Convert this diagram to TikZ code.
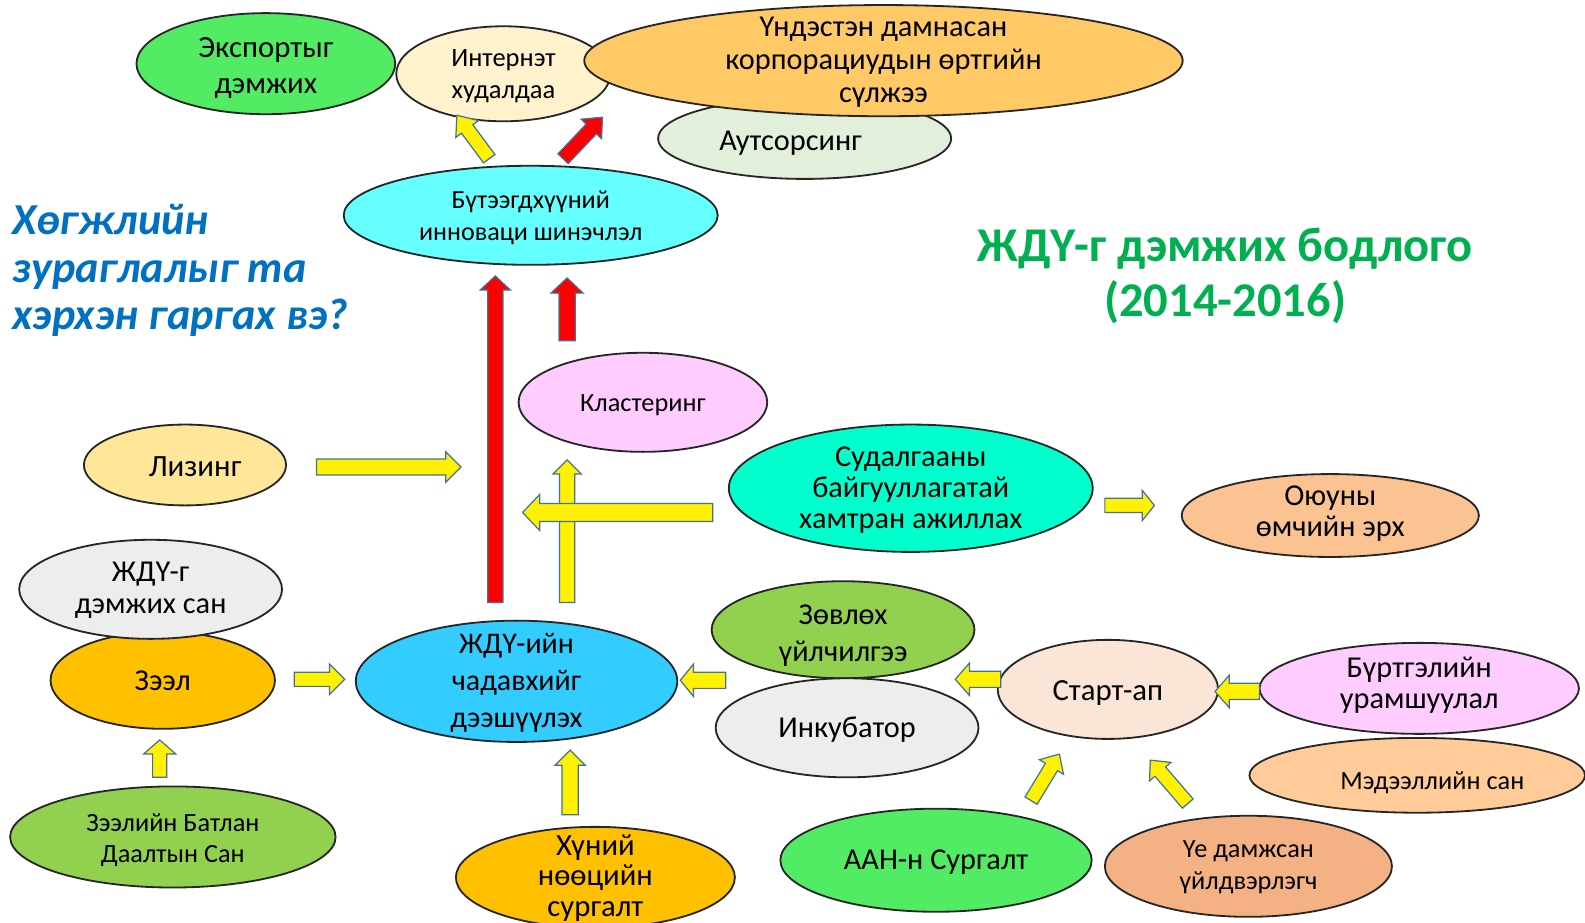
\documentclass[tikz,border=0pt]{standalone}
\usepackage{fontspec}
\setmainfont{Carlito}
\usetikzlibrary{shapes.geometric,calc}
\definecolor{cGreen}{RGB}{82,235,100}
\definecolor{cCream}{RGB}{255,242,204}
\definecolor{cOrangeY}{RGB}{255,201,101}
\definecolor{cPaleG}{RGB}{226,239,218}
\definecolor{cCyan}{RGB}{102,255,255}
\definecolor{cPink}{RGB}{255,204,255}
\definecolor{cLightY}{RGB}{255,230,153}
\definecolor{cAqua}{RGB}{0,255,204}
\definecolor{cPeach}{RGB}{250,195,145}
\definecolor{cGrey}{RGB}{237,237,237}
\definecolor{cGold}{RGB}{255,192,0}
\definecolor{cSky}{RGB}{51,204,255}
\definecolor{cLime}{RGB}{146,208,80}
\definecolor{cSkin}{RGB}{251,229,214}
\definecolor{cApricot}{RGB}{255,204,153}
\definecolor{cSalmon}{RGB}{244,177,131}
\definecolor{cArrowLine}{RGB}{65,113,156}
\definecolor{cTitleBlue}{RGB}{0,112,192}
\definecolor{cTitleGreen}{RGB}{0,176,80}
\tikzset{
  el/.style={ellipse, draw=black!85, line width=0.9pt, inner sep=0pt},
  lbl/.style={align=center, inner sep=0pt, text=black},
  barrowline/.style={draw=cArrowLine, line width=0.6pt, line join=miter},
}
% name, x, y, rx(px), ry(px), fill
\newcommand\ellnode[6]{\node[el, fill=#6, minimum width=#4pt, minimum height=#5pt] (#1) at (#2,#3) {};}
% tail, tip, fill, half shaft, half head, head length
\newcommand\barrow[6]{%
  \coordinate (bn) at ($(#2)!#6!(#1)$);
  \draw[barrowline, fill=#3] ($(#1)!#4!90:(#2)$) -- ($(bn)!#4!90:(#2)$) -- ($(bn)!#5!90:(#2)$) -- (#2) -- ($(bn)!#5!-90:(#2)$) -- ($(bn)!#4!-90:(#2)$) -- ($(#1)!#4!-90:(#2)$) -- cycle;}
\newcommand\fs[2]{\fontsize{#1}{#2}\selectfont}
\begin{document}
\begin{tikzpicture}[x=0.5pt,y=-0.5pt]
\useasboundingbox (0,0) rectangle (1568,913);
% ---- ellipses ----
\ellnode{exp}{263}{63}{128}{50}{cGreen}
\ellnode{inet}{498}{73}{106}{47}{cCream}
\ellnode{outs}{796}{137}{145}{40}{cPaleG}
\ellnode{tnc}{874}{60}{296}{55}{cOrangeY}
\ellnode{prod}{525}{213}{185}{49}{cCyan}
\ellnode{clus}{636}{398}{123}{49}{cPink}
\ellnode{lease}{183}{460}{100}{40}{cLightY}
\ellnode{research}{901}{483}{180}{63}{cAqua}
\ellnode{ip}{1316}{510}{147}{41}{cPeach}
\ellnode{loan}{161}{673}{111}{48}{cGold}
\ellnode{fund}{149}{583}{130}{49}{cGrey}
\ellnode{cap}{511}{674}{159}{60}{cSky}
\ellnode{advice}{834}{623}{130}{48}{cLime}
\ellnode{incub}{838}{720}{130}{49}{cGrey}
\ellnode{start}{1096}{682}{109}{49}{cSkin}
\ellnode{reg}{1404}{681}{158}{45}{cPink}
\ellnode{info}{1402}{767}{166}{37}{cApricot}
\ellnode{guar}{171}{828}{161}{50}{cLime}
\ellnode{hr}{589}{868}{138}{50}{cGold}
\ellnode{train}{926}{851}{154}{51}{cGreen}
\ellnode{gen}{1235}{857}{142}{50}{cSalmon}
% ---- labels ----
\node[lbl, font=\fs{15.2}{18}] (exp-t) at ($(exp)+(0,4.5)$) {Экспортыг\\дэмжих};
\node[lbl, font=\fs{13.1}{16}] (inet-t) at ($(inet)+(0,2.5)$) {Интернэт\\худалдаа};
\node[lbl, font=\fs{15}{16.5}] (outs-t) at ($(outs)+(-14,5)$) {Аутсорсинг};
\node[lbl, font=\fs{15}{16.5}] (tnc-t) at ($(tnc)+(0,1.5)$) {Үндэстэн дамнасан\\корпорациудын өртгийн\\сүлжээ};
\node[lbl, font=\fs{12.9}{15.5}] (prod-t) at ($(prod)+(0,2.5)$) {Бүтээгдхүүний\\инноваци шинэчлэл};
\node[lbl, font=\fs{13}{15}] (clus-t) at ($(clus)+(0,3)$) {Кластеринг};
\node[lbl, font=\fs{15.3}{16}] (lease-t) at ($(lease)+(10,2)$) {Лизинг};
\node[lbl, font=\fs{15}{15.25}] (research-t) at ($(research)+(0,2)$) {Судалгааны\\байгууллагатай\\хамтран ажиллах};
\node[lbl, font=\fs{15}{15.25}] (ip-t) at ($(ip)+(0,-2)$) {Оюуны\\өмчийн эрх};
\node[lbl, font=\fs{15}{15.5}] (fund-t) at ($(fund)+(0,1)$) {ЖДҮ-г\\дэмжих сан};
\node[lbl, font=\fs{15}{16}] (loan-t) at (loan) {Зээл};
\node[lbl, font=\fs{14.8}{18.5}] (cap-t) at ($(cap)+(0,1.5)$) {ЖДҮ-ийн\\чадавхийг\\дээшүүлэх};
\node[lbl, font=\fs{15}{18.5}] (advice-t) at ($(advice)+(0,6)$) {Зөвлөх\\үйлчилгээ};
\node[lbl, font=\fs{15}{16}] (incub-t) at ($(incub)+(0,2)$) {Инкубатор};
\node[lbl, font=\fs{15.2}{16}] (start-t) at ($(start)+(0,4)$) {Старт-ап};
\node[lbl, font=\fs{15}{15.5}] (reg-t) at ($(reg)+(0,-3)$) {Бүртгэлийн\\урамшуулал};
\node[lbl, font=\fs{13}{15}] (info-t) at ($(info)+(15,7)$) {Мэдээллийн сан};
\node[lbl, font=\fs{13}{15.5}] (guar-t) at ($(guar)+(0,3)$) {Зээлийн Батлан\\Даалтын Сан};
\node[lbl, font=\fs{15.2}{15}] (hr-t) at ($(hr)+(0,0.5)$) {Хүний\\нөөцийн\\сургалт};
\node[lbl, font=\fs{15}{16}] (train-t) at ($(train)+(0,2)$) {ААН-н Сургалт};
\node[lbl, font=\fs{13}{15.5}] (gen-t) at ($(gen)+(0,1)$) {Үе дамжсан\\үйлдвэрлэгч};
% ---- titles ----
\node[anchor=north west, align=left, inner sep=0pt, text=cTitleBlue, font=\fs{21.9}{23.5}\bfseries\itshape] (q) at (12,202) {Хөгжлийн\\зураглалыг та\\хэрхэн гаргах вэ?};
\node[align=center, inner sep=0pt, text=cTitleGreen, font=\fs{24}{27}\bfseries] (title) at (1212,273) {ЖДҮ-г дэмжих бодлого\\(2014-2016)};
% ---- block arrows ----
\coordinate (a1s) at (484,157); \coordinate (a1e) at (452,114);
\coordinate (a2s) at (557,157); \coordinate (a2e) at (596,116);
\coordinate (a3s) at (490,596); \coordinate (a3e) at (490,273);
\coordinate (a4s) at (561,337); \coordinate (a4e) at (561,275);
\coordinate (a5s) at (313,462); \coordinate (a5e) at (456,462);
\coordinate (a6s) at (561,596); \coordinate (a6e) at (561,455);
\coordinate (a7s) at (705,507); \coordinate (a7e) at (517,507);
\coordinate (a8s) at (1093,500); \coordinate (a8e) at (1142,500);
\coordinate (a9s) at (291,672); \coordinate (a9e) at (341,672);
\coordinate (a10s) at (718,673); \coordinate (a10e) at (673,673);
\coordinate (a11s) at (564,806); \coordinate (a11e) at (564,742);
\coordinate (a12s) at (158,769); \coordinate (a12e) at (158,732);
\coordinate (a13s) at (990,672); \coordinate (a13e) at (945,672);
\coordinate (a14s) at (1246,684); \coordinate (a14e) at (1202,684);
\coordinate (a15s) at (1020,792); \coordinate (a15e) at (1048,746);
\coordinate (a16s) at (1175,795); \coordinate (a16e) at (1138,752);
\barrow{a1s}{a1e}{yellow}{3.5pt}{7pt}{8.5pt}
\barrow{a2s}{a2e}{red}{3.5pt}{7pt}{8pt}
\barrow{a3s}{a3e}{red}{3.75pt}{7.5pt}{7pt}
\barrow{a4s}{a4e}{red}{4pt}{8pt}{7.5pt}
\barrow{a5s}{a5e}{yellow}{4pt}{7.5pt}{7.5pt}
\barrow{a6s}{a6e}{yellow}{3.75pt}{7pt}{7pt}
\barrow{a7s}{a7e}{yellow}{4.5pt}{9pt}{8.5pt}
\barrow{a8s}{a8e}{yellow}{3.5pt}{7.5pt}{6pt}
\barrow{a9s}{a9e}{yellow}{3.5pt}{7.5pt}{7.5pt}
\barrow{a10s}{a10e}{yellow}{4pt}{8pt}{6.5pt}
\barrow{a11s}{a11e}{yellow}{4pt}{7.5pt}{7.5pt}
\barrow{a12s}{a12e}{yellow}{3.5pt}{8pt}{7pt}
\barrow{a13s}{a13e}{yellow}{4pt}{8pt}{7pt}
\barrow{a14s}{a14e}{yellow}{4pt}{8pt}{7pt}
\barrow{a15s}{a15e}{yellow}{3.5pt}{7pt}{7.5pt}
\barrow{a16s}{a16e}{yellow}{3.5pt}{7pt}{7.5pt}
\end{tikzpicture}
\end{document}
